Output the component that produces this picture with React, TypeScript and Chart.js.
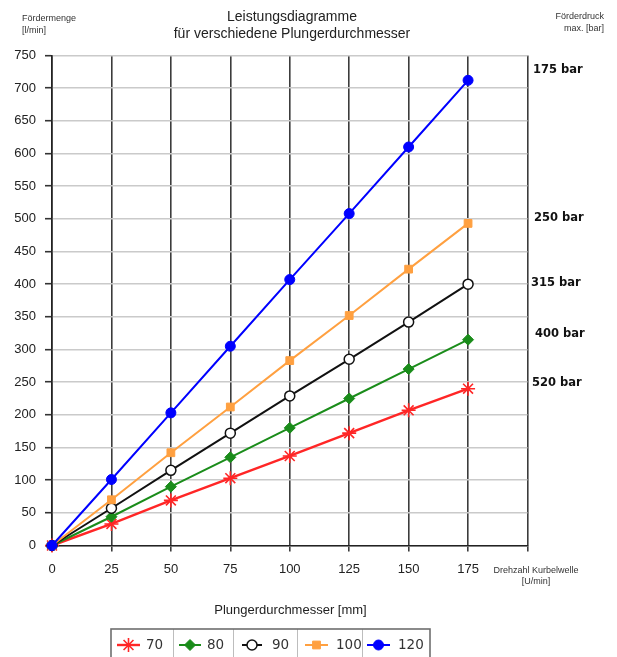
import React, { useEffect, useRef } from 'react';
import { Chart, registerables } from 'chart.js';
import { drawPoint } from 'chart.js/helpers';

Chart.register(...registerables);

// ---- data ----
const xValues = [0, 25, 50, 75, 100, 125, 150, 175];
const series70 = [0, 33, 69, 103, 137, 172, 207, 240];
const series80 = [0, 44, 90, 135, 180, 225, 270, 315];
const series90 = [0, 57, 115, 172, 229, 285, 342, 400];
const series100 = [0, 70, 142, 212, 283, 352, 423, 493];
const series120 = [0, 101, 203, 305, 407, 508, 610, 712];
const seriesLabels = ['70', '80', '90', '100', '120'];
const pressureLabels = ['520 bar', '400 bar', '315 bar', '250 bar', '175 bar'];

const titleLines = ['Leistungsdiagramme', 'für verschiedene Plungerdurchmesser'];
const yTitleLines = ['Fördermenge', '[l/min]'];
const rightTitleLines = ['Förderdruck', 'max. [bar]'];
const xSideLines = ['Drehzahl Kurbelwelle', '[U/min]'];
const xTitle = 'Plungerdurchmesser [mm]';

// ---- styles ----
const allSeries = [series70, series80, series90, series100, series120];
const seriesStyles = [
  { color: '#ff2626', fill: '#ff2626', pointStyle: 'star', radius: 7, pointBorder: 1.6, width: 2.4, order: 5 },
  { color: '#1a8c1a', fill: '#1a8c1a', pointStyle: 'rectRot', radius: 5.5, pointBorder: 1, width: 2, order: 4 },
  { color: '#111111', fill: '#ffffff', pointStyle: 'circle', radius: 5, pointBorder: 1.5, width: 2, order: 3 },
  { color: '#ffa040', fill: '#ffa040', pointStyle: 'rect', radius: 5.5, pointBorder: 1, width: 2, order: 2 },
  { color: '#0000ff', fill: '#0000ff', pointStyle: 'circle', radius: 5, pointBorder: 1, width: 2, order: 1 },
];
// label pixel offsets relative to last point of each series
const pressureLabelStyle = [
  { dx: 64, dy: -5.5 },
  { dx: 67, dy: -5.5 },
  { dx: 63, dy: -1.6 },
  { dx: 66, dy: -5.3 },
  { dx: 65, dy: -10.6 },
];
const legendCells = [111, 173, 233, 297, 362, 430];
const legendOffsets = [
  { lineFrom: 6, lineTo: 29, text: 35 },
  { lineFrom: 6, lineTo: 28, text: 34 },
  { lineFrom: 9, lineTo: 29, text: 39 },
  { lineFrom: 8, lineTo: 31, text: 39 },
  { lineFrom: 5, lineTo: 28, text: 36 },
];

const overlayPlugin = {
  id: 'overlay',
  afterDraw(chart: any) {
    const ctx: CanvasRenderingContext2D = chart.ctx;
    const xs = chart.scales.x;
    const ys = chart.scales.y;
    ctx.save();
    ctx.textBaseline = 'middle';

    // title
    ctx.fillStyle = '#222';
    ctx.font = '14px "Liberation Sans", Arial, sans-serif';
    ctx.textAlign = 'center';
    ctx.fillText(titleLines[0], 292, 17);
    ctx.fillText(titleLines[1], 292, 34);

    // small side titles
    ctx.font = '9px "Liberation Sans", Arial, sans-serif';
    ctx.fillStyle = '#333';
    ctx.textAlign = 'left';
    ctx.fillText(yTitleLines[0], 22, 19);
    ctx.fillText(yTitleLines[1], 22, 31);
    ctx.textAlign = 'right';
    ctx.fillText(rightTitleLines[0], 604, 17);
    ctx.fillText(rightTitleLines[1], 604, 29);
    ctx.textAlign = 'center';
    ctx.fillText(xSideLines[0], 536, 571);
    ctx.fillText(xSideLines[1], 536, 582);

    // x title
    ctx.font = '13px "Liberation Sans", Arial, sans-serif';
    ctx.fillStyle = '#222';
    ctx.fillText(xTitle, 290.5, 610);

    // pressure labels
    ctx.font = 'bold 11.5px "DejaVu Sans", Verdana, sans-serif';
    ctx.fillStyle = '#111';
    ctx.textAlign = 'left';
    allSeries.forEach((s, i) => {
      const lastX = xValues[xValues.length - 1];
      const lastY = s[s.length - 1];
      const st = pressureLabelStyle[i];
      ctx.fillText(pressureLabels[i], xs.getPixelForValue(lastX) + st.dx, ys.getPixelForValue(lastY) + st.dy);
    });

    // legend box
    const top = 629;
    const bottom = 670;
    ctx.strokeStyle = '#bdbdbd';
    ctx.lineWidth = 1;
    for (let i = 1; i < legendCells.length - 1; i++) {
      ctx.beginPath();
      ctx.moveTo(legendCells[i] + 0.5, top);
      ctx.lineTo(legendCells[i] + 0.5, bottom);
      ctx.stroke();
    }
    ctx.strokeStyle = '#6e6e6e';
    ctx.lineWidth = 1.6;
    ctx.strokeRect(legendCells[0], top, legendCells[legendCells.length - 1] - legendCells[0], bottom - top);

    const cy = 645;
    ctx.font = '13.5px "DejaVu Sans", Verdana, sans-serif';
    seriesLabels.forEach((lab, i) => {
      const st = seriesStyles[i];
      const o = legendOffsets[i];
      const x0 = legendCells[i];
      ctx.strokeStyle = st.color;
      ctx.lineWidth = st.width;
      ctx.beginPath();
      ctx.moveTo(x0 + o.lineFrom, cy);
      ctx.lineTo(x0 + o.lineTo, cy);
      ctx.stroke();
      ctx.fillStyle = st.fill;
      ctx.strokeStyle = st.color;
      ctx.lineWidth = st.pointBorder;
      drawPoint(ctx, { pointStyle: st.pointStyle as any, radius: st.radius, rotation: 0, borderWidth: st.pointBorder }, x0 + (o.lineFrom + o.lineTo) / 2, cy);
      ctx.fillStyle = '#333';
      ctx.textAlign = 'left';
      ctx.fillText(lab, x0 + o.text, cy + 0.5);
    });

    ctx.restore();
  },
};

export default function App() {
  const ref = useRef<HTMLCanvasElement | null>(null);

  useEffect(() => {
    document.body.style.margin = '0';
    if (!ref.current) return;
    const datasets = allSeries.map((s, i) => {
      const st = seriesStyles[i];
      return {
        label: seriesLabels[i],
        data: xValues.map((x, j) => ({ x, y: s[j] })),
        borderColor: st.color,
        backgroundColor: st.fill,
        pointBackgroundColor: st.fill,
        pointBorderColor: st.color,
        pointStyle: st.pointStyle as any,
        pointRadius: st.radius,
        pointBorderWidth: st.pointBorder,
        borderWidth: st.width,
        tension: 0,
        clip: false as any,
        order: st.order,
      };
    });
    const tickFont = { family: '"Liberation Sans", Arial, sans-serif', size: 13 };
    const chart = new Chart(ref.current, {
      type: 'line',
      data: { datasets },
      options: {
        animation: false,
        responsive: false,
        events: [],
        layout: { padding: { left: 0, top: 55.5, right: 89.5, bottom: 81.5 } },
        plugins: { legend: { display: false }, tooltip: { enabled: false }, title: { display: false } },
        scales: {
          x: {
            type: 'linear',
            min: 0,
            max: 200,
            ticks: {
              stepSize: 25,
              font: tickFont,
              color: '#222',
              padding: 10,
              callback: (v: any) => (v === 200 ? '' : String(v)),
            },
            grid: { color: '#3c3c3c', lineWidth: 1.6, tickLength: 6, tickColor: '#3c3c3c', tickWidth: 1.6 },
            border: { color: '#222', width: 1.6 },
            afterFit: (s: any) => { s.height = 30; },
          },
          y: {
            type: 'linear',
            min: 0,
            max: 750,
            ticks: { stepSize: 50, font: tickFont, color: '#222', padding: 9 },
            grid: { color: '#cacaca', lineWidth: 1.4, tickLength: 7, tickColor: '#333', tickWidth: 1.6 },
            border: { color: '#222', width: 1.6 },
            afterFit: (s: any) => { s.width = 52; },
          },
        },
      },
      plugins: [overlayPlugin],
    });
    return () => chart.destroy();
  }, []);

  return <canvas ref={ref} width={617} height={657} style={{ display: 'block', width: 617, height: 657 }} />;
}
